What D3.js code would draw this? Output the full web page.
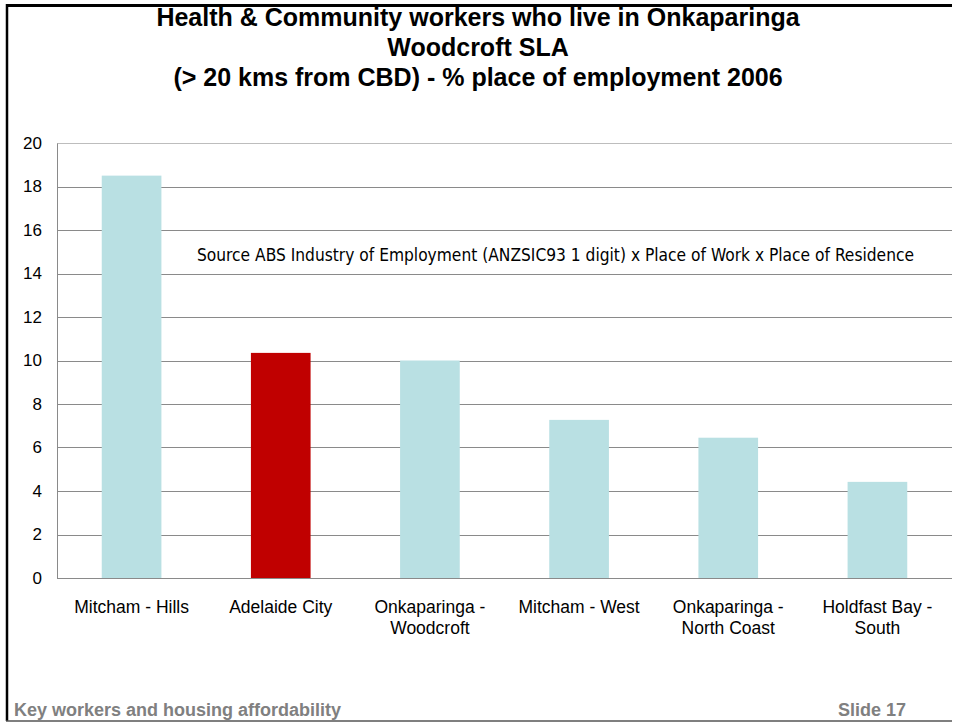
<!DOCTYPE html>
<html>
<head>
<meta charset="utf-8">
<script src="https://cdn.jsdelivr.net/npm/d3@7"></script>
<style>
  body { margin: 0; background: #fff; }
  svg { display: block; }
</style>
</head>
<body>
<svg id="chart"></svg>
<script>
const categories = [
  ['Mitcham - Hills'],
  ['Adelaide City'],
  ['Onkaparinga -', 'Woodcroft'],
  ['Mitcham - West'],
  ['Onkaparinga -', 'North Coast'],
  ['Holdfast Bay -', 'South']
];
const values = [18.5, 10.35, 10.0, 7.27, 6.45, 4.42];
const highlighted = [false, true, false, false, false, false];
const yTicks = [0, 2, 4, 6, 8, 10, 12, 14, 16, 18, 20];
const titleLines = [
  'Health & Community workers who live in Onkaparinga',
  'Woodcroft SLA',
  '(> 20 kms from CBD) - % place of employment 2006'
];
const sourceNote = 'Source ABS Industry of Employment (ANZSIC93 1 digit) x Place of Work x Place of Residence';

const width = 955;
const height = 725;
const margin = { top: 143, right: 3, bottom: 147, left: 57 };
const font = 'Arial, "Liberation Sans", sans-serif';

const svg = d3.select('#chart')
  .attr('width', width)
  .attr('height', height)
  .style('font-family', font);

const x = d3.scaleBand()
  .domain(d3.range(categories.length))
  .range([margin.left, width - margin.right])
  .paddingInner(0.6)
  .paddingOuter(0.3);

const y = d3.scaleLinear()
  .domain([0, 20])
  .range([height - margin.bottom, margin.top]);

// gridlines
svg.append('g')
  .selectAll('line')
  .data(yTicks)
  .join('line')
  .attr('x1', margin.left)
  .attr('x2', width - margin.right)
  .attr('y1', d => Math.round(y(d)) + 0.5)
  .attr('y2', d => Math.round(y(d)) + 0.5)
  .attr('stroke', d => d === 20 ? '#bdbdbd' : '#8a8a8a')
  .attr('stroke-width', 1);

// bars
svg.append('g')
  .selectAll('rect')
  .data(values)
  .join('rect')
  .attr('x', (d, i) => x(i))
  .attr('y', d => y(d))
  .attr('width', x.bandwidth())
  .attr('height', d => y(0) - y(d))
  .attr('fill', (d, i) => highlighted[i] ? '#c00000' : '#b9e0e3');

// y axis
const yAxis = svg.append('g')
  .attr('transform', `translate(${margin.left},0)`)
  .call(d3.axisLeft(y).tickValues(yTicks).tickSize(0).tickPadding(15));
yAxis.select('.domain').attr('stroke', '#8a8a8a');
yAxis.selectAll('text')
  .attr('font-size', 17)
  .attr('fill', '#000')
  .style('font-family', font);

// category labels
const catLabels = svg.append('g')
  .selectAll('text')
  .data(categories)
  .join('text')
  .attr('x', (d, i) => x(i) + x.bandwidth() / 2)
  .attr('y', 613)
  .attr('text-anchor', 'middle')
  .attr('font-size', 17.5)
  .attr('fill', '#000');
catLabels.selectAll('tspan')
  .data(d => d)
  .join('tspan')
  .attr('x', function () { return d3.select(this.parentNode).attr('x'); })
  .attr('dy', (d, i) => i === 0 ? 0 : 21)
  .text(d => d);

// title
svg.append('g')
  .selectAll('text')
  .data(titleLines)
  .join('text')
  .attr('x', 478)
  .attr('y', (d, i) => 26 + i * 30)
  .attr('text-anchor', 'middle')
  .attr('font-size', 25)
  .attr('font-weight', 'bold')
  .attr('fill', '#000')
  .text(d => d);

// source note inside the plot
svg.append('text')
  .attr('x', 197)
  .attr('y', 261)
  .attr('font-size', 18)
  .attr('fill', '#000')
  .attr('textLength', 717)
  .attr('lengthAdjust', 'spacingAndGlyphs')
  .style('font-family', '"DejaVu Sans Condensed", "Liberation Sans Narrow", sans-serif')
  .text(sourceNote);

// footer
svg.append('text')
  .attr('x', 14)
  .attr('y', 716)
  .attr('font-size', 18)
  .attr('font-weight', 'bold')
  .attr('fill', '#808080')
  .text('Key workers and housing affordability');
svg.append('text')
  .attr('x', 906)
  .attr('y', 716)
  .attr('text-anchor', 'end')
  .attr('font-size', 18)
  .attr('font-weight', 'bold')
  .attr('fill', '#808080')
  .text('Slide 17');

// slide frame (top band hides the clipped part of the first title line)
svg.append('rect')
  .attr('x', 0).attr('y', 0).attr('width', width).attr('height', 4)
  .attr('fill', '#fff');
svg.append('line')
  .attr('x1', 6).attr('x2', 952).attr('y1', 5.5).attr('y2', 5.5)
  .attr('stroke', '#000').attr('stroke-width', 3);
svg.append('line')
  .attr('x1', 7).attr('x2', 7).attr('y1', 4).attr('y2', 721)
  .attr('stroke', '#000').attr('stroke-width', 2.5);
svg.append('line')
  .attr('x1', 6).attr('x2', 952).attr('y1', 721).attr('y2', 721)
  .attr('stroke', '#555').attr('stroke-width', 1.5);
</script>
</body>
</html>
